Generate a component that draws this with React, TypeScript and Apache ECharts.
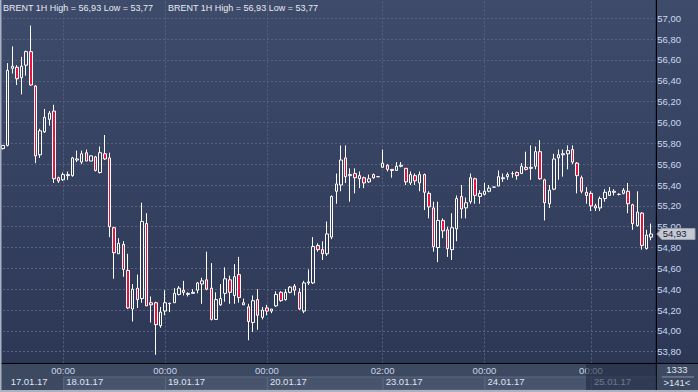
import React, { useEffect, useRef } from 'react';
import * as echarts from 'echarts';

// [open, close, low, high] per hourly candle, grouped by trading day
const jan17: number[][] = [
  [55.75, 55.78, 55.74, 55.78], [55.78, 56.5, 55.77, 56.57], [56.52, 56.54, 56.47, 56.73], [56.53, 56.42, 56.36, 56.55],
  [56.43, 56.54, 56.27, 56.63], [56.55, 56.68, 56.45, 56.69], [56.68, 56.36, 56.35, 56.93], [56.35, 55.68, 55.61, 56.36],
  [55.69, 55.92, 55.66, 55.94], [55.91, 56.05, 55.9, 56.13], [56.03, 56.09, 55.97, 56.11], [56.11, 55.46, 55.42, 56.17],
  [55.47, 55.44, 55.42, 55.48],
];
const jan18: number[][] = [
  [55.45, 55.5, 55.44, 55.52], [55.49, 55.5, 55.45, 55.53], [55.49, 55.66, 55.48, 55.67], [55.64, 55.65, 55.62, 55.73],
  [55.62, 55.7, 55.6, 55.73], [55.71, 55.63, 55.63, 55.74], [55.63, 55.68, 55.63, 55.68], [55.67, 55.54, 55.53, 55.68],
  [55.52, 55.71, 55.51, 55.77], [55.7, 55.65, 55.64, 55.88], [55.66, 55.0, 54.9, 55.71], [54.99, 54.75, 54.5, 55.0],
  [54.74, 54.84, 54.74, 54.89], [54.83, 54.59, 54.52, 54.86], [54.58, 54.22, 54.21, 54.74], [54.21, 54.4, 54.09, 54.45],
  [54.41, 54.3, 54.22, 54.54], [54.31, 55.05, 54.27, 55.23], [55.03, 54.24, 54.24, 55.13], [54.27, 54.25, 54.08, 54.33],
  [54.27, 54.06, 53.77, 54.28], [54.05, 54.18, 54.03, 54.23],
];
const jan19: number[][] = [
  [54.19, 54.27, 54.15, 54.39], [54.26, 54.265, 54.18, 54.27], [54.27, 54.36, 54.27, 54.41], [54.35, 54.41, 54.34, 54.43],
  [54.39, 54.37, 54.34, 54.48], [54.36, 54.35, 54.33, 54.37], [54.36, 54.37, 54.36, 54.4], [54.39, 54.46, 54.36, 54.47],
  [54.45, 54.48, 54.26, 54.51], [54.49, 54.4, 54.39, 54.76], [54.41, 54.11, 54.1, 54.65], [54.11, 54.3, 54.11, 54.37],
  [54.25, 54.31, 54.24, 54.45], [54.36, 54.5, 54.28, 54.61], [54.49, 54.37, 54.26, 54.53], [54.34, 54.52, 54.26, 54.64],
  [54.54, 54.32, 54.27, 54.71], [54.27, 54.25, 54.25, 54.31], [54.23, 54.09, 53.91, 54.26], [54.08, 54.29, 53.99, 54.34],
  [54.3, 54.15, 54.01, 54.4], [54.13, 54.2, 54.11, 54.23],
];
const jan20: number[][] = [
  [54.22, 54.19, 54.15, 54.25], [54.19, 54.21, 54.17, 54.21], [54.24, 54.35, 54.23, 54.38], [54.37, 54.29, 54.28, 54.38],
  [54.3, 54.37, 54.29, 54.4], [54.37, 54.42, 54.36, 54.43], [54.43, 54.39, 54.34, 54.45], [54.37, 54.21, 54.2, 54.41],
  [54.19, 54.46, 54.17, 54.48], [54.46, 54.47, 54.44, 54.59], [54.46, 54.81, 54.45, 54.9], [54.82, 54.78, 54.76, 54.84],
  [54.78, 54.74, 54.68, 54.86], [54.74, 54.93, 54.72, 55.05], [54.9, 55.29, 54.88, 55.3], [55.34, 55.41, 55.22, 55.51],
  [55.4, 55.64, 55.34, 55.78], [55.66, 55.48, 55.42, 55.78], [55.49, 55.5, 55.24, 55.56], [55.51, 55.47, 55.32, 55.56],
  [55.46, 55.49, 55.37, 55.53], [55.47, 55.42, 55.37, 55.48], [55.43, 55.46, 55.42, 55.5], [55.5, 55.47, 55.46, 55.51],
  [55.48, 55.48, 55.48, 55.48],
];
const jan23: number[][] = [
  [55.57, 55.61, 55.57, 55.74], [55.59, 55.55, 55.53, 55.6], [55.55, 55.54, 55.47, 55.55], [55.54, 55.58, 55.54, 55.62],
  [55.59, 55.58, 55.57, 55.62], [55.56, 55.43, 55.4, 55.56], [55.42, 55.5, 55.4, 55.53], [55.49, 55.44, 55.4, 55.51],
  [55.42, 55.5, 55.34, 55.53], [55.5, 55.33, 55.16, 55.51], [55.32, 55.19, 55.08, 55.34], [55.18, 54.81, 54.76, 55.24],
  [54.8, 55.06, 54.66, 55.24], [55.06, 54.96, 54.89, 55.08], [54.97, 54.79, 54.71, 55.0], [54.78, 54.99, 54.68, 55.13],
  [54.98, 55.27, 54.86, 55.3], [55.29, 55.17, 55.08, 55.4], [55.18, 55.23, 55.08, 55.28], [55.24, 55.47, 55.22, 55.51],
  [55.46, 55.3, 55.22, 55.47], [55.29, 55.32, 55.22, 55.35],
];
const jan24: number[][] = [
  [55.31, 55.34, 55.3, 55.42], [55.34, 55.37, 55.33, 55.4], [55.38, 55.38, 55.38, 55.38], [55.39, 55.48, 55.39, 55.54],
  [55.46, 55.47, 55.43, 55.51], [55.48, 55.5, 55.45, 55.52], [55.51, 55.51, 55.47, 55.53], [55.52, 55.49, 55.45, 55.53],
  [55.51, 55.58, 55.51, 55.61], [55.57, 55.55, 55.54, 55.72], [55.57, 55.56, 55.45, 55.78], [55.58, 55.72, 55.55, 55.77],
  [55.72, 55.46, 55.45, 55.83], [55.45, 55.23, 55.06, 55.46], [55.22, 55.35, 55.18, 55.4], [55.36, 55.65, 55.35, 55.7],
  [55.66, 55.69, 55.45, 55.74], [55.69, 55.7, 55.48, 55.74], [55.7, 55.73, 55.55, 55.78], [55.74, 55.62, 55.6, 55.78],
  [55.61, 55.49, 55.32, 55.62], [55.47, 55.34, 55.32, 55.49], [55.33, 55.3, 55.22, 55.38],
];
const jan25: number[][] = [
  [55.32, 55.2, 55.15, 55.34], [55.2, 55.18, 55.15, 55.22], [55.18, 55.27, 55.15, 55.29], [55.27, 55.33, 55.24, 55.36],
  [55.3, 55.34, 55.3, 55.38], [55.34, 55.33, 55.3, 55.36], [55.31, 55.31, 55.3, 55.32], [55.32, 55.35, 55.31, 55.37],
  [55.34, 55.22, 55.13, 55.42], [55.21, 55.03, 54.97, 55.22], [55.01, 55.14, 55.0, 55.34], [55.13, 54.82, 54.78, 55.14],
  [54.79, 54.92, 54.78, 54.97], [54.9, 54.93, 54.87, 55.03],
];

const days = [jan17, jan18, jan19, jan20, jan23, jan24, jan25];
const dateLabels = ['17.01.17', '18.01.17', '19.01.17', '20.01.17', '23.01.17', '24.01.17', '25.01.17'];
const sessionTimes = ['', '00:00', '00:00', '00:00', '02:00', '00:00', '00:00'];
const infoLabels = ['1333'];
const symbol = 'BRENT 1H';

const yMin = 53.6;
const yMax = 57.2;
const yStep = 0.2;

const candles = days.flat();
const dayStart: number[] = [];
{
  let acc = 0;
  days.forEach((d) => { dayStart.push(acc); acc += d.length; });
}
const categories = candles.map((_, i) => String(i)).concat(['']);

const fmt = (v: number) => v.toFixed(2).replace('.', ',');
const FONT = '"Liberation Sans", Arial, sans-serif';

export default function App() {
  const ref = useRef<HTMLDivElement>(null);
  useEffect(() => {
    document.body.style.margin = '0';
    const chart = echarts.init(ref.current!, undefined, { renderer: 'svg' });
    const hi = Math.max(...candles.map((c) => c[3]));
    const lo = Math.min(...candles.map((c) => c[2]));
    const last = candles[candles.length - 1][1];
    const timeIdx = dayStart.slice(1);
    const dash = { color: '#56627e', type: [2, 2] as any, width: 1 };

    chart.setOption({
      animation: false,
      backgroundColor: new echarts.graphic.LinearGradient(0, 0, 0, 1, [
        { offset: 0, color: '#3f4b6a' },
        { offset: 1, color: '#2a3654' },
      ]),
      grid: { left: 3, right: 42.2, top: -2.54, bottom: 19.44, outerBoundsMode: 'none', containLabel: false },
      xAxis: [
        {
          type: 'category', data: categories, boundaryGap: false, position: 'bottom',
          axisLine: { show: false }, axisTick: { show: false }, axisLabel: { show: false },
          splitLine: { show: true, interval: (i: number) => timeIdx.includes(i), lineStyle: dash },
        },
        {
          type: 'category', data: categories, boundaryGap: false, position: 'bottom', offset: -9.6, z: 10,
          axisLine: { show: false }, axisTick: { show: false }, splitLine: { show: false },
          axisLabel: {
            interval: (i: number) => timeIdx.includes(i),
            formatter: (_v: string, i: number) => sessionTimes[dayStart.indexOf(i)] || '',
            color: '#c9d4ea', fontSize: 9.5, fontFamily: FONT, margin: 3,
          },
        },
        {
          type: 'category', data: categories, boundaryGap: false, position: 'bottom', offset: -9.6, z: 10,
          axisLine: { show: false }, axisTick: { show: false }, splitLine: { show: false },
          axisLabel: {
            interval: (i: number) => i === 1 || timeIdx.includes(i),
            formatter: (_v: string, i: number) => (i === 1 ? dateLabels[0] : dateLabels[dayStart.indexOf(i)] || ''),
            color: '#dfe5f0', fontSize: 9.5, fontFamily: FONT, margin: 14, align: 'left', padding: [0, 0, 0, 3],
          },
        },
      ],
      yAxis: {
        type: 'value', position: 'right', min: yMin, max: yMax, interval: yStep,
        axisLine: { show: true, lineStyle: { color: '#000' } }, axisTick: { show: false },
        splitLine: { show: true, lineStyle: dash },
        axisLabel: {
          margin: 1.5, color: '#cbd8f2', fontSize: 9.5, fontFamily: FONT,
          formatter: (v: number) => (v <= yMin + 0.01 || v >= yMax - 0.01 ? '' : fmt(v)),
        },
      },
      series: [
        {
          type: 'candlestick', xAxisIndex: 0, yAxisIndex: 0, data: candles, barWidth: 3, clip: false,
          itemStyle: {
            color: 'rgba(0,0,0,0)', color0: '#e5143d', borderColor: '#ffffff', borderColor0: '#ffffff', borderWidth: 1,
          },
        },
      ],
    });

    const px = (i: number) => chart.convertToPixel({ xAxisIndex: 0 }, i) as number;
    const py = (v: number) => chart.convertToPixel({ yAxisIndex: 0 }, v) as number;
    const axisX = px(candles.length);
    const bandTop = py(yMin) - 9.6;
    const W = 698, H = 392;

    const cells: any[] = [];
    for (let k = 1; k < days.length; k++) {
      const x0 = px(dayStart[k]);
      const x1 = k + 1 < days.length ? px(dayStart[k + 1]) : axisX;
      cells.push({
        type: 'rect', z: 5, shape: { x: x0 + 0.5, y: bandTop + 14, width: x1 - x0, height: 13 },
        style: { fill: '#48536c', stroke: '#5c6781', lineWidth: 1 },
      });
    }
    const ty = py(last);
    chart.setOption({
      graphic: [
        { type: 'rect', z: 4, shape: { x: 0, y: bandTop, width: W, height: H - bandTop }, style: { fill: '#3d4861' } },
        ...cells,
        {
          type: 'rect', z: 30, shape: { x: px(dayStart[days.length - 1]) - 5, y: bandTop + 0.5, width: axisX - px(dayStart[days.length - 1]) + 5, height: 27 },
          style: { fill: 'rgba(33,43,66,0.6)' },
        },
        { type: 'line', z: 31, shape: { x1: 0, y1: bandTop + 0.5, x2: W, y2: bandTop + 0.5 }, style: { stroke: '#000', lineWidth: 1 } },
        { type: 'line', z: 31, shape: { x1: axisX + 0.5, y1: 0, x2: axisX + 0.5, y2: H - 2 }, style: { stroke: '#000', lineWidth: 1 } },
        { type: 'line', z: 31, shape: { x1: axisX + 6, y1: bandTop + 14, x2: W - 4, y2: bandTop + 14 }, style: { stroke: '#8a93a8', lineWidth: 1 } },
        { type: 'rect', z: 32, shape: { x: 0, y: H - 2, width: W, height: 2 }, style: { fill: '#aab1bf' } },
        { type: 'rect', z: 32, shape: { x: 0, y: 0, width: 1.5, height: H }, style: { fill: '#a9b1c2' } },
        {
          type: 'text', z: 33, x: (axisX + W) / 2, y: bandTop + 7,
          style: { text: infoLabels[0], fill: '#dfe5f0', font: `9.5px ${FONT}`, align: 'center', verticalAlign: 'middle' },
        },
        {
          type: 'text', z: 33, x: (axisX + W) / 2, y: bandTop + 20,
          style: { text: `>${candles.length}<`, fill: '#dfe5f0', font: `9.5px ${FONT}`, align: 'center', verticalAlign: 'middle' },
        },
        {
          type: 'polygon', z: 34,
          shape: { points: [[axisX + 1, ty], [axisX + 6, ty - 5.5], [W - 3, ty - 5.5], [W - 3, ty + 5.5], [axisX + 6, ty + 5.5]] },
          style: { fill: '#c4c9d3', stroke: '#9aa1ae', lineWidth: 1 },
        },
        {
          type: 'text', z: 35, x: axisX + 7, y: ty,
          style: { text: fmt(last), fill: '#1a2132', font: `9.5px ${FONT}`, verticalAlign: 'middle' },
        },
        {
          type: 'text', z: 35, x: 3, y: 8,
          style: { text: `${symbol} High = ${fmt(hi)} Low = ${fmt(lo)}`, fill: '#e6eaf2', font: `9px ${FONT}`, verticalAlign: 'middle' },
        },
        {
          type: 'text', z: 35, x: 168, y: 8,
          style: { text: `${symbol} High = ${fmt(hi)} Low = ${fmt(lo)}`, fill: '#e6eaf2', font: `9px ${FONT}`, verticalAlign: 'middle' },
        },
      ],
    });
    return () => chart.dispose();
  }, []);
  return <div ref={ref} style={{ width: 698, height: 392, position: 'fixed', left: 0, top: 0 }} />;
}
